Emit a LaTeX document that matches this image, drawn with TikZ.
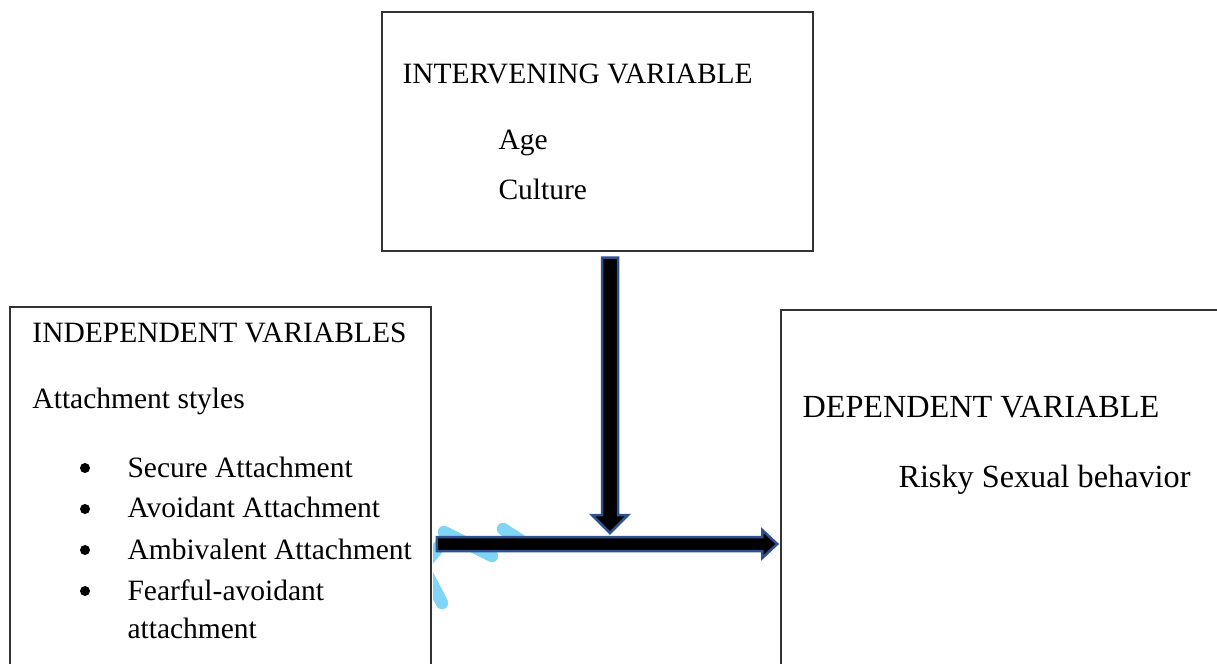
\documentclass[tikz,border=0pt]{standalone}
\usepackage{fontspec}
\setmainfont{Liberation Serif}
\usepackage{xcolor}
\usepackage{tikz}
\usetikzlibrary{positioning, calc, fit}
\definecolor{arrowedge}{RGB}{47, 82, 143}
\definecolor{glitch}{RGB}{128, 212, 245}

\begin{document}
\begin{tikzpicture}[
    x=0.4pt, y=-0.4pt,
    varbox/.style={rectangle, draw=black!80, line width=0.6pt, inner sep=0pt},
    label/.style={anchor=base west, inner sep=0pt, font=\fontsize{11.8}{14}\selectfont},
    biglabel/.style={label, font=\fontsize{12.9}{15}\selectfont},
    dot/.style={circle, fill=black, inner sep=0pt, minimum size=4pt},
    blockarrow/.style={fill=black, draw=arrowedge, line width=1pt, line join=miter},
]
    \useasboundingbox (0,0) rectangle (1217,664);

    % boxes
    \node[varbox, fit={(382,12) (813,251)}] (interv) {};
    \node[varbox, fit={(10,307) (431,690)}] (indep) {};
    \node[varbox, fit={(781,310) (1240,690)}] (dep) {};

    % intervening variable
    \node[label] (intervhead) at (402,84) {INTERVENING VARIABLE};
    \node[label] (age) at (498,150) {Age};
    \node[label] (culture) at (498,200) {Culture};

    % independent variables
    \node[label] (indephead) at (32,343) {INDEPENDENT VARIABLES};
    \node[label] (styles) at (32,409) {Attachment styles};
    \foreach \txt [count=\i] in {Secure Attachment, Avoidant Attachment, Ambivalent Attachment, Fearful-avoidant} {
        \node[dot] (bullet\i) at (85, 468+\i*41-41) {};
        \node[label] (item\i) at (127, 477+\i*41-41) {\txt};
    }
    \node[label] (item5) at (127,638) {attachment};

    % dependent variable
    \node[biglabel] (dephead) at (802,418) {DEPENDENT VARIABLE};
    \node[biglabel] (behavior) at (898,488) {Risky Sexual behavior};

    % light blue streaks next to the left box
    \begin{scope}
        \clip (433,500) rectangle (540,640);
        \draw[glitch, line width=5pt, line cap=round] (444,532) -- (492,556);
        \draw[glitch, line width=5pt, line cap=round] (503,529) -- (520,540);
        \draw[glitch, line width=5pt, line cap=round] (446,538) -- (428,560);
        \draw[glitch, line width=5pt, line cap=round] (428,576) -- (442,603);
    \end{scope}

    % arrows
    \coordinate (joint) at (610,544);
    \coordinate (vtop) at ($(interv.south -| joint)+(0,6)$);
    \coordinate (vtip) at ($(joint)+(0,-11)$);
    \coordinate (hstart) at ($(indep.east |- joint)+(5,0)$);
    \coordinate (htip) at ($(dep.west |- joint)+(-3,0)$);

    \draw[blockarrow] ($(vtop)+(-8,0)$) -- ($(vtip)+(-8,-18)$) -- ($(vtip)+(-18,-18)$) -- (vtip)
        -- ($(vtip)+(18,-18)$) -- ($(vtip)+(8,-18)$) -- ($(vtop)+(8,0)$) -- cycle;
    \draw[blockarrow] ($(hstart)+(0,-7)$) -- ($(htip)+(-15,-7)$) -- ($(htip)+(-15,-14)$) -- (htip)
        -- ($(htip)+(-15,14)$) -- ($(htip)+(-15,7)$) -- ($(hstart)+(0,7)$) -- cycle;
\end{tikzpicture}
\end{document}
